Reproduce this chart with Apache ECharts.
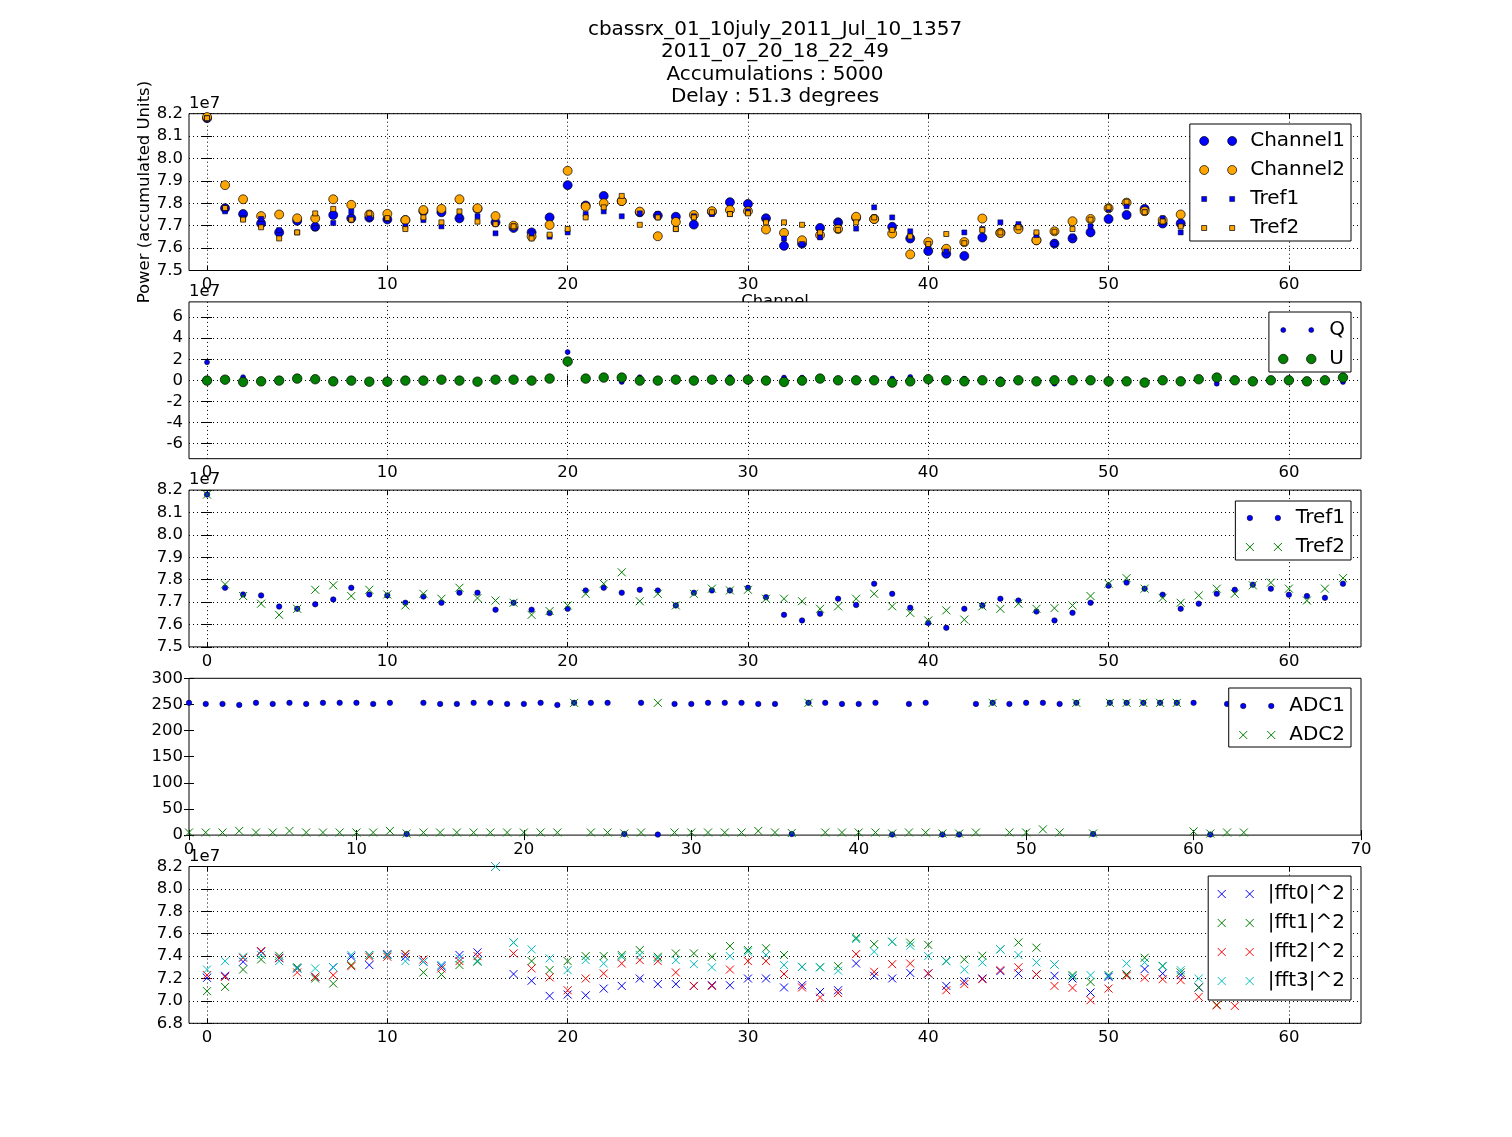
<!DOCTYPE html>
<html><head><meta charset="utf-8">
<script src="https://cdn.jsdelivr.net/npm/echarts@6/dist/echarts.min.js"></script>
<style>html,body{margin:0;padding:0;background:#fff}#c{width:1512px;height:1137px}</style>
</head><body><div id="c"></div>
<script>
// ---------------- data ----------------
const channel = Array.from({length: 64}, (_, i) => i);

const titleLines = ['cbassrx_01_10july_2011_Jul_10_1357', '2011_07_20_18_22_49', 'Accumulations : 5000', 'Delay : 51.3 degrees'];
const offsetLabel = '1e7';
const yLabel = 'Power (accumulated Units)';
const xLabel = 'Channel';

// panel 1 (values in units of 1e7)
const channel1 = [8.18, 7.778, 7.752, 7.71, 7.67, 7.722, 7.695, 7.748, 7.733, 7.736,
  7.728, 7.725, 7.765, 7.76, 7.733, 7.775, 7.715, 7.69, 7.67, 7.737,
  7.881, 7.79, 7.833, 7.81, 7.76, 7.745, 7.74, 7.705, 7.762, 7.805,
  7.797, 7.733, 7.61, 7.62, 7.69, 7.715, 7.735, 7.73, 7.695, 7.643,
  7.587, 7.575, 7.565, 7.647, 7.668, 7.69, 7.635, 7.62, 7.643, 7.67,
  7.73, 7.748, 7.775, 7.71, 7.71, 7.73, 7.76, 7.74, 7.78, 7.75,
  7.74, 7.72, 7.73, 7.79];
const channel2 = [8.185, 7.881, 7.818, 7.743, 7.75, 7.733, 7.733, 7.818, 7.793, 7.75,
  7.753, 7.725, 7.77, 7.775, 7.818, 7.778, 7.743, 7.7, 7.652, 7.703,
  7.945, 7.785, 7.8, 7.81, 7.763, 7.653, 7.717, 7.748, 7.765, 7.77,
  7.765, 7.683, 7.668, 7.635, 7.658, 7.685, 7.74, 7.73, 7.665, 7.572,
  7.627, 7.597, 7.627, 7.732, 7.668, 7.685, 7.635, 7.675, 7.72, 7.73,
  7.778, 7.803, 7.765, 7.725, 7.75, 7.76, 7.78, 7.75, 7.79, 7.77,
  7.76, 7.74, 7.75, 7.8];
const tref1 = [8.18, 7.764, 7.734, 7.73, 7.68, 7.67, 7.69, 7.712, 7.764, 7.734,
  7.73, 7.697, 7.725, 7.697, 7.742, 7.742, 7.666, 7.697, 7.666, 7.651,
  7.67, 7.752, 7.764, 7.742, 7.755, 7.752, 7.685, 7.742, 7.752, 7.752,
  7.764, 7.722, 7.643, 7.618, 7.648, 7.715, 7.687, 7.782, 7.737, 7.675,
  7.607, 7.585, 7.67, 7.685, 7.715, 7.707, 7.658, 7.618, 7.652, 7.697,
  7.773, 7.787, 7.76, 7.733, 7.67, 7.693, 7.737, 7.755, 7.778, 7.76,
  7.733, 7.727, 7.719, 7.782];
const tref2 = [8.18, 7.779, 7.727, 7.693, 7.643, 7.67, 7.755, 7.775, 7.727, 7.755,
  7.734, 7.685, 7.737, 7.715, 7.764, 7.718, 7.707, 7.697, 7.643, 7.66,
  7.685, 7.737, 7.782, 7.833, 7.704, 7.737, 7.685, 7.737, 7.76, 7.752,
  7.755, 7.715, 7.715, 7.704, 7.67, 7.681, 7.715, 7.737, 7.681, 7.652,
  7.618, 7.663, 7.622, 7.681, 7.67, 7.693, 7.67, 7.673, 7.685, 7.727,
  7.782, 7.807, 7.76, 7.719, 7.697, 7.73, 7.76, 7.737, 7.775, 7.787,
  7.76, 7.707, 7.76, 7.807];

// panel 2
const qVals = [1.72, 0.06, 0.3, -0.1, -0.03, 0.16, 0.1, -0.1, -0.03, -0.13,
  -0.13, -0.03, -0.03, 0.06, -0.03, -0.13, 0.06, 0.06, -0.03, 0.16,
  2.68, 0.16, 0.26, -0.15, 0.3, -0.03, 0.06, -0.03, 0.06, 0.3,
  0.06, -0.03, 0.26, 0.26, 0.16, 0, 0, 0, 0.16, 0.32,
  0.1, 0, 0.16, 0, 0.1, 0, -0.1, -0.32, 0, 0,
  -0.1, -0.1, -0.22, 0, -0.1, 0.1, -0.32, 0, -0.1, 0,
  0, -0.1, 0, -0.16];
const uVals = [-0.03, 0.06, -0.16, -0.1, -0.03, 0.16, 0.1, -0.1, -0.03, -0.13,
  -0.13, -0.03, -0.03, 0.06, -0.03, -0.13, 0.06, 0.06, -0.03, 0.16,
  1.79, 0.16, 0.26, 0.26, -0.03, -0.03, 0.06, -0.03, 0.06, -0.03,
  0.06, -0.03, -0.16, -0.03, 0.16, 0, 0, 0, -0.22, -0.1,
  0.1, 0, -0.1, 0, -0.16, 0, -0.1, 0, 0, 0,
  -0.1, -0.1, -0.22, 0, -0.1, 0.1, 0.26, 0, -0.1, 0,
  0, -0.1, 0, 0.26];

// panel 4
const adc1 = [253, 251, 251, 249, 253, 251, 253, 251, 253, 253,
  253, 251, 253, 2, 253, 251, 251, 253, 253, 251,
  251, 253, 249, 253, 253, 253, 2, 253, 1, 251,
  251, 253, 253, 253, 251, 251, 2, 253, 253, 251,
  251, 253, 1, 251, 253, 1, 1, 251, 253, 251,
  253, 253, 251, 253, 2, 253, 253, 253, 253, 253,
  253, 1, 251, 253];
const adc2 = [5, 5, 5, 8, 5, 5, 8, 5, 5, 5,
  5, 5, 8, 3, 5, 5, 5, 5, 5, 5,
  5, 5, 5, 253, 5, 5, 3, 5, 253, 5,
  5, 5, 5, 5, 8, 5, 4, 253, 5, 5,
  5, 5, 3, 5, 5, 3, 3, 5, 253, 5,
  5, 11, 5, 253, 3, 253, 253, 253, 253, 253,
  7, 3, 5, 5];

// panel 5 (units of 1e7)
const fft0 = [7.206, 7.224, 7.35, 7.44, 7.385, 7.29, 7.215, 7.3, 7.394, 7.32,
  7.418, 7.394, 7.35, 7.31, 7.41, 7.433, 8.2, 7.24, 7.18, 7.045,
  7.057, 7.05, 7.11, 7.134, 7.2, 7.15, 7.15, 7.134, 7.14, 7.14,
  7.2, 7.2, 7.12, 7.14, 7.08, 7.095, 7.334, 7.224, 7.2, 7.25,
  7.245, 7.134, 7.176, 7.2, 7.266, 7.245, 7.236, 7.224, 7.2, 7.075,
  7.215, 7.236, 7.284, 7.245, 7.23, 7.12, 7.18, 7.22, 7.3, 7.35,
  7.28, 7.25, 7.3, 7.32];
const fft1 = [7.087, 7.125, 7.28, 7.37, 7.403, 7.3, 7.2, 7.155, 7.32, 7.41,
  7.41, 7.418, 7.254, 7.236, 7.32, 7.35, 8.2, 7.522, 7.355, 7.275,
  7.355, 7.4, 7.4, 7.41, 7.454, 7.394, 7.424, 7.424, 7.394, 7.49,
  7.454, 7.47, 7.41, 7.304, 7.3, 7.31, 7.564, 7.507, 7.528, 7.52,
  7.5, 7.355, 7.37, 7.403, 7.46, 7.522, 7.475, 7.325, 7.23, 7.17,
  7.23, 7.236, 7.385, 7.313, 7.254, 7.12, 6.965, 7.15, 7.25, 7.3,
  7.28, 7.22, 7.26, 7.3];
const fft2 = [7.23, 7.215, 7.385, 7.445, 7.38, 7.254, 7.215, 7.23, 7.31, 7.394,
  7.394, 7.418, 7.37, 7.29, 7.355, 7.4, 8.2, 7.424, 7.29, 7.21,
  7.095, 7.2, 7.245, 7.334, 7.364, 7.355, 7.254, 7.134, 7.134, 7.28,
  7.355, 7.355, 7.24, 7.12, 7.03, 7.07, 7.418, 7.26, 7.328, 7.334,
  7.245, 7.095, 7.15, 7.194, 7.275, 7.3, 7.236, 7.134, 7.116, 7.006,
  7.11, 7.224, 7.206, 7.194, 7.185, 7.036, 6.96, 6.955, 7.1, 7.15,
  7.2, 7.12, 7.18, 7.22];
const fft3 = [7.28, 7.355, 7.394, 7.41, 7.355, 7.29, 7.29, 7.3, 7.41, 7.41,
  7.41, 7.355, 7.35, 7.32, 7.38, 7.358, 8.2, 7.52, 7.46, 7.38,
  7.275, 7.364, 7.334, 7.394, 7.41, 7.38, 7.364, 7.328, 7.3, 7.4,
  7.44, 7.41, 7.32, 7.304, 7.3, 7.27, 7.552, 7.44, 7.528, 7.493,
  7.4, 7.355, 7.28, 7.343, 7.46, 7.41, 7.343, 7.325, 7.22, 7.23,
  7.225, 7.334, 7.343, 7.31, 7.275, 7.2, 7.25, 7.3, 7.28, 7.32,
  7.3, 7.27, 7.3, 7.33];

// tick labels
const chanTicks = [0, 10, 20, 30, 40, 50, 60];
const adcXTicks = [0, 10, 20, 30, 40, 50, 60, 70];
const powerTicks = [7.5, 7.6, 7.7, 7.8, 7.9, 8.0, 8.1, 8.2];
const quTicks = [-6, -4, -2, 0, 2, 4, 6];
const adcYTicks = [0, 50, 100, 150, 200, 250, 300];
const fftTicks = [6.8, 7.0, 7.2, 7.4, 7.6, 7.8, 8.0, 8.2];

// ---------------- layout / style ----------------
const FONT = 'DejaVu Sans';
const GL = 189, GW = 1172, GH = 156.8;
const TOPS = [113.7, 301.9, 490.1, 678.3, 866.5];
const BLUE = '#0000ff', ORANGE = '#ffa500', GREEN = '#008000', RED = '#ff0000', CYAN = '#00bfbf';
const XSYM = 'path://M0 0L10 10M10 0L0 10';

const panels = [
  {x: {min: -1, max: 64, ticks: chanTicks, fmt: v => String(v)}, y: {min: 7.5, max: 8.2, ticks: powerTicks, fmt: v => v.toFixed(1)}, grid: true, offset: true},
  {x: {min: -1, max: 64, ticks: chanTicks, fmt: v => String(v)}, y: {min: -7.45, max: 7.45, ticks: quTicks, fmt: v => String(v)}, grid: true, offset: true},
  {x: {min: -1, max: 64, ticks: chanTicks, fmt: v => String(v)}, y: {min: 7.5, max: 8.2, ticks: powerTicks, fmt: v => v.toFixed(1)}, grid: true, offset: true},
  {x: {min: 0, max: 70, ticks: adcXTicks, fmt: v => String(v)}, y: {min: 0, max: 300, ticks: adcYTicks, fmt: v => String(v)}, grid: false, offset: false},
  {x: {min: -1, max: 64, ticks: chanTicks, fmt: v => String(v)}, y: {min: 6.8, max: 8.2, ticks: fftTicks, fmt: v => v.toFixed(1)}, grid: true, offset: true}
];

const grids = [], xAxes = [], yAxes = [];
const dotted = {color: '#000', type: [1, 3], width: 1};
panels.forEach((p, gi) => {
  grids.push({left: GL, top: TOPS[gi], width: GW, height: GH, show: true, backgroundColor: '#fff', borderColor: '#000', borderWidth: 1, containLabel: false});
  ['bottom', 'top'].forEach((pos, k) => {
    xAxes.push({
      type: 'value', gridIndex: gi, position: pos, min: p.x.min, max: p.x.max,
      axisLine: {show: false},
      axisTick: {show: true, inside: true, length: 5, lineStyle: {color: '#000', width: 1}, customValues: p.x.ticks},
      axisLabel: {show: k === 0, customValues: p.x.ticks, margin: 6, color: '#000', fontFamily: FONT, fontSize: 16.5, formatter: p.x.fmt},
      splitLine: {show: k === 0 && p.grid, lineStyle: dotted}
    });
  });
  ['left', 'right'].forEach((pos, k) => {
    yAxes.push({
      type: 'value', gridIndex: gi, position: pos, min: p.y.min, max: p.y.max,
      axisLine: {show: false},
      axisTick: {show: true, inside: true, length: 5, lineStyle: {color: '#000', width: 1}, customValues: p.y.ticks},
      axisLabel: {show: k === 0, customValues: p.y.ticks, margin: 6, color: '#000', fontFamily: FONT, fontSize: 16.5, formatter: p.y.fmt},
      splitLine: {show: k === 0 && p.grid, lineStyle: dotted}
    });
  });
});

function pts(arr) { return arr.map((v, i) => [channel[i], v]); }
function sc(name, gi, arr, symbol, size, color, edge, extra) {
  const isX = symbol === XSYM;
  return Object.assign({
    type: 'scatter', name, xAxisIndex: gi * 2, yAxisIndex: gi * 2,
    data: pts(arr), symbol, symbolSize: size, silent: true,
    itemStyle: isX ? {color: color, borderColor: color, borderWidth: 1, opacity: 1}
                   : {color: color, borderColor: '#000', borderWidth: edge, opacity: 1},
    emphasis: {disabled: true}
  }, extra || {});
}

const series = [
  sc('Channel1', 0, channel1, 'circle', 9, BLUE, 0.7),
  sc('Channel2', 0, channel2, 'circle', 9, ORANGE, 0.7),
  sc('Tref1', 0, tref1, 'rect', 5, BLUE, 0.5),
  sc('Tref2', 0, tref2, 'rect', 5, ORANGE, 0.7),
  sc('Q', 1, qVals, 'circle', 5, BLUE, 0.5),
  sc('U', 1, uVals, 'circle', 9.5, GREEN, 0.7),
  sc('Tref1', 2, tref1, 'circle', 5.5, BLUE, 0.5),
  sc('Tref2', 2, tref2, XSYM, 8, GREEN),
  sc('ADC1', 3, adc1, 'circle', 5.5, BLUE, 0.5),
  sc('ADC2', 3, adc2, XSYM, 8, GREEN),
  sc('|fft0|^2', 4, fft0, XSYM, 8, BLUE, 0, {clip: false}),
  sc('|fft1|^2', 4, fft1, XSYM, 8, GREEN, 0, {clip: false}),
  sc('|fft2|^2', 4, fft2, XSYM, 8, RED, 0, {clip: false}),
  sc('|fft3|^2', 4, fft3, XSYM, 8, CYAN, 0, {clip: false})
];

// legend icons: two markers, like matplotlib's numpoints=2
const IW = 38, IH = 12;
function icon(kind, size) {
  let p = 'path://M0 0M' + IW + ' ' + IH;
  const cy = IH / 2, h = size / 2;
  [5, 33].forEach(cx => {
    if (kind === 'circle') {
      p += `M${cx - h} ${cy}A${h} ${h} 0 1 0 ${cx + h} ${cy}A${h} ${h} 0 1 0 ${cx - h} ${cy}Z`;
    } else if (kind === 'rect') {
      p += `M${cx - h} ${cy - h}L${cx + h} ${cy - h}L${cx + h} ${cy + h}L${cx - h} ${cy + h}Z`;
    } else {
      p += `M${cx - h} ${cy - h}L${cx + h} ${cy + h}M${cx + h} ${cy - h}L${cx - h} ${cy + h}`;
    }
  });
  return p;
}
function li(name, kind, size, color, edge) {
  return {
    name, icon: icon(kind, size),
    itemStyle: kind === 'x' ? {color: color, borderColor: color, borderWidth: 1}
                            : {color: color, borderColor: '#000', borderWidth: edge}
  };
}
function legend(top, data, padding) {
  return {
    show: true, orient: 'vertical', right: 161, top: top, align: 'left',
    itemWidth: IW, itemHeight: IH, itemGap: 9, padding: padding || [7, 6, 3, 9],
    backgroundColor: '#fff', borderColor: '#000', borderWidth: 1, borderRadius: 0,
    selectedMode: false, z: 10,
    textStyle: {fontSize: 20, fontFamily: FONT, color: '#000', lineHeight: 20, padding: [0, 0, 0, 8]},
    data: data
  };
}
const legends = [
  legend(124, [li('Channel1', 'circle', 9, BLUE, 0.7), li('Channel2', 'circle', 9, ORANGE, 0.7), li('Tref1', 'rect', 5, BLUE, 0.5), li('Tref2', 'rect', 5, ORANGE, 0.7)]),
  legend(312, [li('Q', 'circle', 5, BLUE, 0.5), li('U', 'circle', 9.5, GREEN, 0.7)], [8, 6, 3, 9]),
  legend(501, [li('Tref1', 'circle', 5.5, BLUE, 0.5), li('Tref2', 'x', 8, GREEN)]),
  legend(688, [li('ADC1', 'circle', 5.5, BLUE, 0.5), li('ADC2', 'x', 8, GREEN)], [8, 6, 2, 9]),
  legend(876, [li('|fft0|^2', 'x', 8, BLUE), li('|fft1|^2', 'x', 8, GREEN), li('|fft2|^2', 'x', 8, RED), li('|fft3|^2', 'x', 8, CYAN)], [8, 6, 9, 8])
];

const CX = GL + GW / 2;
const graphics = [];
titleLines.forEach((t, i) => graphics.push({type: 'text', x: CX, y: 29.5 + i * 22.4, style: {text: t, fontSize: 20, fontFamily: FONT, fill: '#000', align: 'center', verticalAlign: 'middle'}}));
graphics.push({type: 'text', x: 145, y: (TOPS[0] + GH / 2), rotation: Math.PI / 2, style: {text: yLabel, fontSize: 16.5, fontFamily: FONT, fill: '#000', align: 'center', verticalAlign: 'middle'}});
graphics.push({type: 'text', x: CX, y: 301.5, z: -1, style: {text: xLabel, fontSize: 16.5, fontFamily: FONT, fill: '#000', align: 'center', verticalAlign: 'middle'}});
panels.forEach((p, gi) => {
  if (p.offset) graphics.push({type: 'text', x: GL, y: TOPS[gi] - 10, style: {text: offsetLabel, fontSize: 16.5, fontFamily: FONT, fill: '#000', align: 'left', verticalAlign: 'middle'}});
});

const chart = echarts.init(document.getElementById('c'), null, {renderer: 'canvas'});
chart.setOption({
  animation: false,
  backgroundColor: '#fff',
  grid: grids, xAxis: xAxes, yAxis: yAxes,
  legend: legends,
  series: series,
  graphic: {elements: graphics}
});
</script>
</body></html>
